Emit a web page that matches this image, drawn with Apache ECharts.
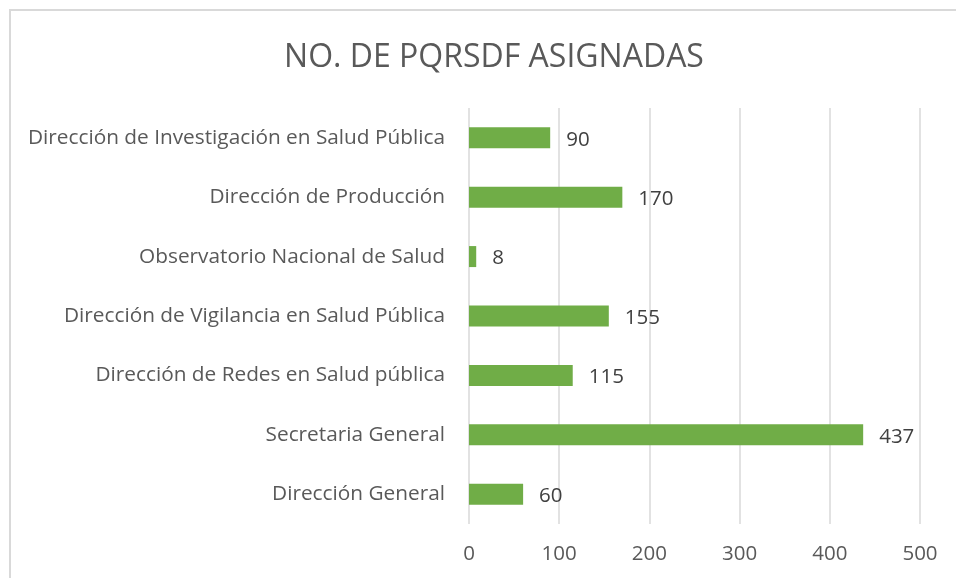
<!DOCTYPE html>
<html>
<head>
<meta charset="utf-8">
<script src="https://cdn.jsdelivr.net/npm/echarts@6/dist/echarts.min.js"></script>
<style>
  html, body { margin: 0; padding: 0; background: #fff; }
  #frame {
    position: absolute; left: 9px; top: 9px; width: 960px; height: 580px;
    border: 2px solid #d9d9d9; box-sizing: border-box;
  }
  #chart { position: absolute; left: 0; top: 0; width: 956px; height: 578px; }
</style>
</head>
<body>
<div id="frame"></div>
<div id="chart"></div>
<script>
// categorias de abajo hacia arriba
const categories = [
  "Dirección General",
  "Secretaria General",
  "Dirección de Redes en Salud pública",
  "Dirección de Vigilancia en Salud Pública",
  "Observatorio Nacional de Salud",
  "Dirección de Producción",
  "Dirección de Investigación en Salud Pública"
];
const values = [60, 437, 115, 155, 8, 170, 90];
const xTicks = [0, 100, 200, 300, 400, 500];

const font = "'Open Sans', 'Noto Sans', sans-serif";
let myChart = echarts.init(document.getElementById("chart"));

let option = {
  animation: false,
  title: {
    text: "NO. DE PQRSDF ASIGNADAS",
    left: 489,
    top: 37,
    textAlign: "center",
    textStyle: { color: "#595959", fontSize: 32, fontWeight: "normal", fontFamily: font }
  },
  grid: { left: 469, right: 36, top: 108, bottom: 54 },
  xAxis: {
    type: "value",
    min: xTicks[0],
    max: xTicks[xTicks.length - 1],
    interval: 100,
    axisLine: { show: false },
    axisTick: { show: false },
    splitLine: { lineStyle: { color: "#d9d9d9", width: 1.5 } },
    axisLabel: { color: "#595959", fontSize: 20.5, margin: 20, fontFamily: font }
  },
  yAxis: {
    type: "category",
    data: categories,
    axisLine: { show: false },
    axisTick: { show: false },
    axisLabel: { color: "#595959", fontSize: 20.8, margin: 24, fontFamily: font }
  },
  series: [
    {
      type: "bar",
      data: values,
      barWidth: 21,
      itemStyle: { color: "#70ad47" },
      label: {
        show: true,
        position: "right",
        distance: 16,
        offset: [0, 2],
        color: "#404040",
        fontSize: 20.5,
        fontFamily: font
      }
    }
  ]
};

myChart.setOption(option);
</script>
</body>
</html>
